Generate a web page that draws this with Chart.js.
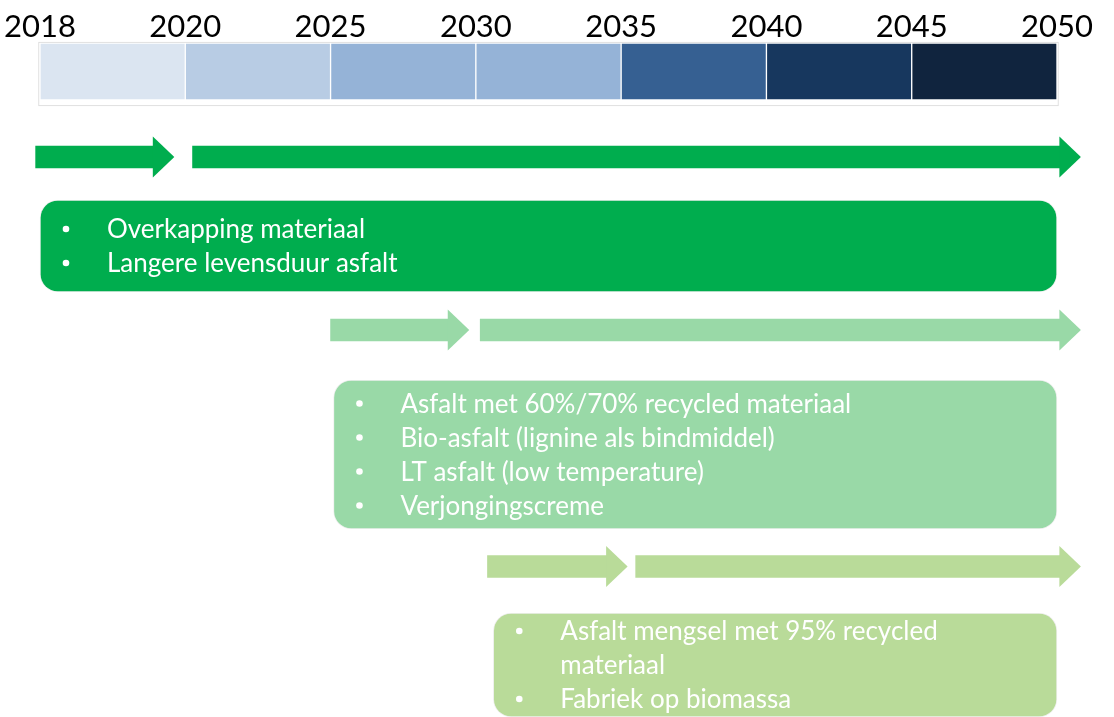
<!DOCTYPE html>
<html>
<head>
<meta charset="utf-8">
<title>Tijdlijn asfalt</title>
<script src="https://cdn.jsdelivr.net/npm/chart.js@4.4.1/dist/chart.umd.min.js"></script>
<style>
  html, body { margin: 0; padding: 0; background: #ffffff; }
  #timeline { display: block; }
</style>
</head>
<body>
<canvas id="timeline" width="1114" height="717"></canvas>
<script>
// tick labels of the period strip (segment index 0..7)
const years = ['2018', '2020', '2025', '2030', '2035', '2040', '2045', '2050'];

// each track: first short arrow, gap, then long arrow up to past 2050 (segment units)
const arrowStart = [-0.03, 2.0, 3.08];
const arrowBreak = [0.78, 2.81, 3.9];
const arrowRestart = [1.05, 3.03, 4.1];
const arrowEnd = [7.02, 7.02, 7.02];

// the text blocks under each track
const boxStart = [0, 2.02, 3.12];
const boxEnd = [7, 7, 7];

const track1Items = [
  ['Overkapping materiaal'],
  ['Langere levensduur asfalt']
];
const track2Items = [
  ['Asfalt met 60%/70% recycled materiaal'],
  ['Bio-asfalt (lignine als bindmiddel)'],
  ['LT asfalt (low temperature)'],
  ['Verjongingscreme']
];
const track3Items = [
  ['Asfalt mengsel met 95% recycled', 'materiaal'],
  ['Fabriek op biomassa']
];

// --- styling / layout ---
const stripColors = ['#dbe5f1', '#b8cce4', '#95b3d7', '#95b3d7', '#366092', '#17375e', '#10243e'];
const trackColors = ['#00ad4e', '#99d9a7', '#b9db99'];
const arrowY = [157, 330, 566.5];
const boxY = [246, 454.5, 665];
const boxH = [92, 149, 104];
const trackItems = [track1Items, track2Items, track3Items];

const FONT = 'Lato, "Open Sans", sans-serif';

function arrowData() {
  var out = [];
  for (var i = 0; i < arrowStart.length; i++) {
    out.push({x: [arrowStart[i], arrowBreak[i]], y: arrowY[i]});
    out.push({x: [arrowRestart[i], arrowEnd[i]], y: arrowY[i]});
  }
  return out;
}

function boxDataset(i) {
  return {
    label: 'track' + (i + 1),
    data: [{x: [boxStart[i], boxEnd[i]], y: boxY[i]}],
    backgroundColor: trackColors[i],
    borderColor: 'rgba(0,0,0,0.06)',
    borderWidth: 1,
    borderSkipped: false,
    borderRadius: 18,
    barThickness: boxH[i],
    grouped: false,
    clip: false,
    items: trackItems[i]
  };
}

// arrow heads on the end of every arrow shaft
const arrowHeads = {
  id: 'arrowHeads',
  afterDatasetsDraw(chart) {
    var ctx = chart.ctx;
    chart.data.datasets.forEach(function (ds, di) {
      if (!ds.isArrow) return;
      chart.getDatasetMeta(di).data.forEach(function (bar, k) {
        var end = Math.max(bar.x, bar.base);
        ctx.save();
        ctx.fillStyle = ds.backgroundColor[k];
        ctx.beginPath();
        ctx.moveTo(end - 0.5, bar.y - 20.5);
        ctx.lineTo(end + 21, bar.y);
        ctx.lineTo(end - 0.5, bar.y + 20.5);
        ctx.closePath();
        ctx.fill();
        ctx.restore();
      });
    });
  }
};

// bullet lists inside the boxes
const boxText = {
  id: 'boxText',
  afterDatasetsDraw(chart) {
    var ctx = chart.ctx;
    chart.data.datasets.forEach(function (ds, di) {
      if (!ds.items) return;
      var bar = chart.getDatasetMeta(di).data[0];
      var left = Math.min(bar.x, bar.base);
      var lines = [];
      ds.items.forEach(function (item) {
        item.forEach(function (txt, j) {
          lines.push({bullet: j === 0, text: txt});
        });
      });
      var lh = 34;
      var top = bar.y - (lines.length - 1) * lh / 2;
      ctx.save();
      ctx.fillStyle = '#ffffff';
      ctx.textBaseline = 'middle';
      ctx.textAlign = 'left';
      lines.forEach(function (ln, j) {
        var y = top + j * lh;
        if (ln.bullet) {
          ctx.beginPath();
          ctx.arc(left + 26, y, 3.3, 0, Math.PI * 2);
          ctx.fill();
        }
        ctx.font = '26px ' + FONT;
        ctx.fillText(ln.text, left + 67, y + 1);
      });
      ctx.restore();
    });
  }
};

function renderChart(ctx) {
  var datasets = [];

  datasets.push(boxDataset(0));
  datasets.push(boxDataset(1));
  datasets.push(boxDataset(2));

  datasets.push({
    label: 'arrows',
    isArrow: true,
    data: arrowData(),
    backgroundColor: [trackColors[0], trackColors[0], trackColors[1], trackColors[1], trackColors[2], trackColors[2]],
    borderWidth: 0,
    borderSkipped: false,
    barThickness: 22,
    grouped: false,
    clip: false
  });

  datasets.push({
    label: 'periods',
    data: years.slice(0, -1).map(function (y, i) { return {x: [i, i + 1], y: 71.5}; }),
    backgroundColor: stripColors,
    borderColor: '#ffffff',
    borderWidth: 1,
    borderSkipped: false,
    barThickness: 57,
    grouped: false,
    clip: false
  });

  // light frame round the period strip
  datasets.push({
    label: 'frame',
    data: [{x: [-0.01, 7.01], y: 74}],
    backgroundColor: '#ffffff',
    borderColor: '#d9d9d9',
    borderWidth: 1,
    borderSkipped: false,
    barThickness: 64,
    grouped: false,
    clip: false
  });

  return new Chart(ctx, {
    type: 'bar',
    data: {datasets: datasets},
    options: {
      indexAxis: 'y',
      responsive: false,
      animation: false,
      layout: {padding: {left: 40, right: 57, top: 0, bottom: 0}},
      plugins: {
        legend: {display: false},
        tooltip: {enabled: false}
      },
      scales: {
        x: {
          type: 'linear',
          position: 'top',
          min: 0,
          max: 7,
          grid: {display: false, drawTicks: false},
          border: {display: false},
          ticks: {
            stepSize: 1,
            autoSkip: false,
            maxRotation: 0,
            padding: -2,
            color: '#000000',
            font: {family: FONT, size: 31},
            callback: function (v) { return years[v]; }
          },
          afterFit: function (s) { s.height = 44; }
        },
        y: {
          type: 'linear',
          display: false,
          reverse: true,
          offset: false,
          min: 44,
          max: 717
        }
      }
    },
    plugins: [arrowHeads, boxText]
  });
}

document.fonts.load('26px Lato').then(function () {
  renderChart(document.getElementById('timeline'));
}, function () {
  renderChart(document.getElementById('timeline'));
});
</script>
</body>
</html>
